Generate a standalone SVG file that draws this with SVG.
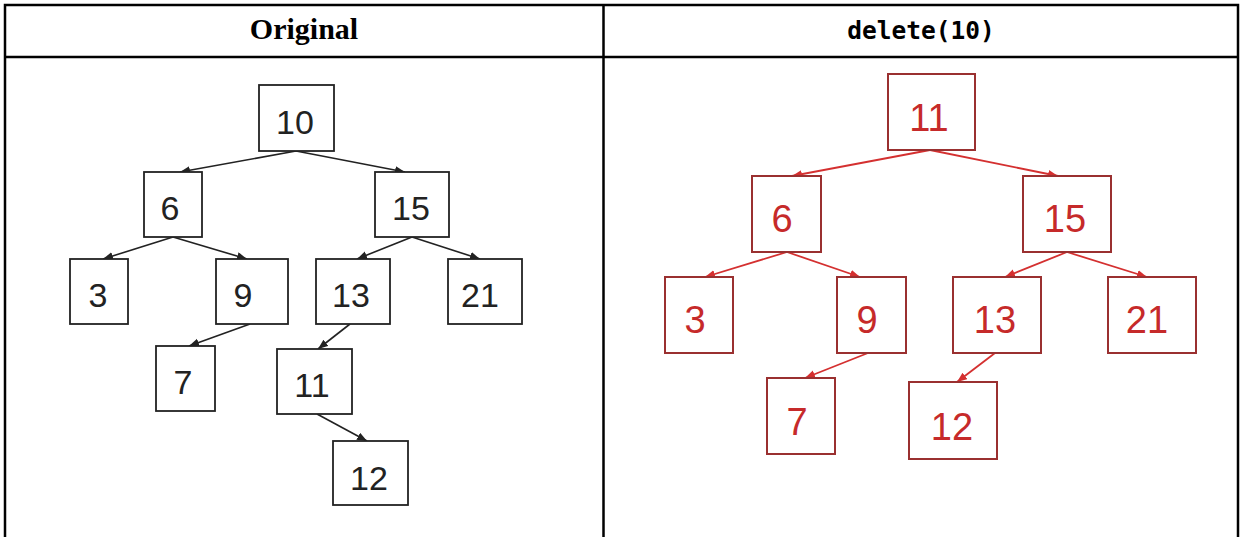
<svg xmlns="http://www.w3.org/2000/svg" width="1244" height="537" viewBox="0 0 1244 537">
<style>
.tb{fill:none;stroke:#000;stroke-width:2.5}
.hd{font-family:"Liberation Serif",serif;font-weight:bold;font-size:30px;fill:#000;text-anchor:middle}
.hm{font-family:"DejaVu Sans Mono","Liberation Mono",monospace;font-weight:bold;font-size:24.5px;fill:#000;text-anchor:middle}
.bn rect{fill:#fff;stroke:#222;stroke-width:1.8}
.bn text{font-family:"Liberation Sans",Arial,sans-serif;font-size:34px;fill:#222;text-anchor:middle}
.rn rect{fill:#fff;stroke:#9a3030;stroke-width:2}
.rn text{font-family:"Liberation Sans",Arial,sans-serif;font-size:38px;fill:#c62a2a;text-anchor:middle}
.bl{stroke:#222;stroke-width:1.6;fill:none;marker-end:url(#ab)}
.rl{stroke:#d43030;stroke-width:1.8;fill:none;marker-end:url(#ar)}
</style>
<defs>
<marker id="ab" markerUnits="userSpaceOnUse" markerWidth="12" markerHeight="10" refX="10" refY="4" orient="auto"><path d="M0,0 L10,4 L0,8 z" fill="#222"/></marker>
<marker id="ar" markerUnits="userSpaceOnUse" markerWidth="12" markerHeight="10" refX="10" refY="4" orient="auto"><path d="M0,0 L10,4 L0,8 z" fill="#d43030"/></marker>
</defs>
<rect width="1244" height="537" fill="#fff"/>
<g id="table">
<path class="tb" d="M5,540 V5 H1238 V540 M5,57 H1238 M603.5,5 V540"/>
<text class="hd" x="304" y="39">Original</text>
<text class="hm" x="921" y="39">delete(10)</text>
</g>
<g id="connectors">
<line class="bl" x1="296" y1="151" x2="180" y2="172"/>
<line class="bl" x1="296" y1="151" x2="405" y2="172"/>
<line class="bl" x1="173" y1="237" x2="103" y2="259"/>
<line class="bl" x1="173" y1="237" x2="247" y2="259"/>
<line class="bl" x1="412" y1="237" x2="357" y2="259"/>
<line class="bl" x1="412" y1="237" x2="480" y2="259"/>
<line class="bl" x1="250" y1="324" x2="189" y2="346"/>
<line class="bl" x1="350" y1="324" x2="318" y2="349"/>
<line class="bl" x1="317" y1="414" x2="367" y2="441"/>
<line class="rl" x1="930" y1="150" x2="792" y2="176"/>
<line class="rl" x1="930" y1="150" x2="1058" y2="176"/>
<line class="rl" x1="787" y1="252" x2="705" y2="277"/>
<line class="rl" x1="787" y1="252" x2="860" y2="277"/>
<line class="rl" x1="1067" y1="252" x2="1005" y2="277"/>
<line class="rl" x1="1067" y1="252" x2="1147" y2="277"/>
<line class="rl" x1="868" y1="353" x2="805" y2="378"/>
<line class="rl" x1="995" y1="353" x2="957" y2="382"/>
</g>
<g id="b10" class="bn"><rect x="259" y="85" width="75" height="66"/><text x="295" y="134">10</text></g>
<g id="b6" class="bn"><rect x="144" y="172" width="58" height="65"/><text x="170" y="220">6</text></g>
<g id="b15" class="bn"><rect x="375" y="172" width="74" height="65"/><text x="411" y="220">15</text></g>
<g id="b3" class="bn"><rect x="70" y="259" width="58" height="65"/><text x="98" y="307">3</text></g>
<g id="b9" class="bn"><rect x="216" y="259" width="72" height="65"/><text x="243" y="307">9</text></g>
<g id="b13" class="bn"><rect x="316" y="259" width="74" height="65"/><text x="351" y="307">13</text></g>
<g id="b21" class="bn"><rect x="448" y="259" width="74" height="65"/><text x="480" y="307">21</text></g>
<g id="b7" class="bn"><rect x="156" y="346" width="59" height="65"/><text x="183" y="394">7</text></g>
<g id="b11" class="bn"><rect x="277" y="349" width="75" height="65"/><text x="312" y="397">11</text></g>
<g id="b12" class="bn"><rect x="333" y="441" width="75" height="64"/><text x="369" y="490">12</text></g>
<g id="r11" class="rn"><rect x="888" y="74" width="87" height="76"/><text x="929" y="131">11</text></g>
<g id="r6" class="rn"><rect x="752" y="176" width="69" height="76"/><text x="782" y="232">6</text></g>
<g id="r15" class="rn"><rect x="1023" y="176" width="88" height="76"/><text x="1065" y="232">15</text></g>
<g id="r3" class="rn"><rect x="665" y="277" width="68" height="76"/><text x="695" y="333">3</text></g>
<g id="r9" class="rn"><rect x="837" y="277" width="69" height="76"/><text x="867" y="333">9</text></g>
<g id="r13" class="rn"><rect x="953" y="277" width="88" height="76"/><text x="995" y="333">13</text></g>
<g id="r21" class="rn"><rect x="1108" y="277" width="88" height="76"/><text x="1147" y="333">21</text></g>
<g id="r7" class="rn"><rect x="767" y="378" width="68" height="76"/><text x="797" y="435">7</text></g>
<g id="r12" class="rn"><rect x="909" y="382" width="88" height="77"/><text x="952" y="440">12</text></g>
</svg>
